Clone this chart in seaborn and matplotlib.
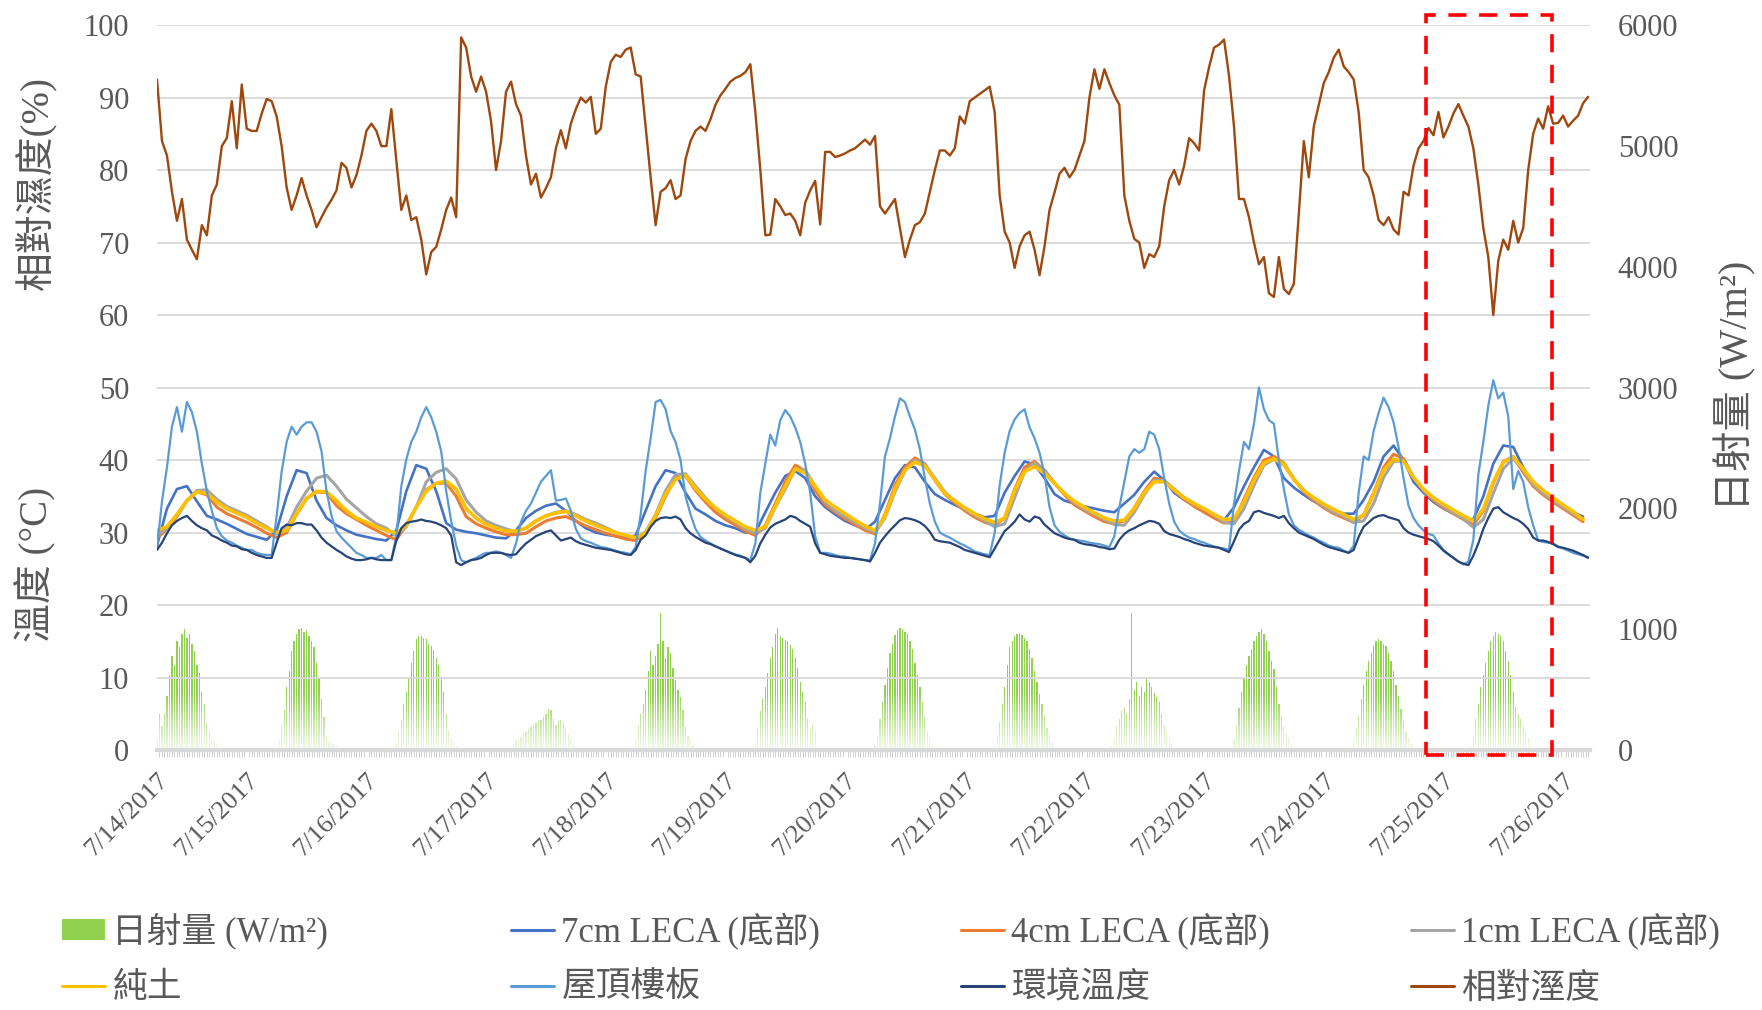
import seaborn as sns
import matplotlib.pyplot as plt
import matplotlib.dates as mdates
from matplotlib.lines import Line2D
from matplotlib.patches import Patch, Rectangle
import pandas as pd
import numpy as np

# hourly readings starting 7/14 06:00
rh = [92.5, 84, 82, 77, 73, 76, 70.4, 69, 67.7, 72.4, 71, 76.5, 78, 83.3, 84.4, 89.5, 83, 91.8, 85.7, 85.4, 85.4, 87.8, 89.8, 89.5,
      87.4, 83.3, 77.6, 74.5, 76.5, 78.9, 76.5, 74.5, 72.1, 73.5, 74.8, 75.9, 77.2, 81, 80.3, 77.6, 79.3, 82, 85.4, 86.4, 85.4, 83.3, 83.3, 88.4,
      81.3, 74.5, 76.5, 73.1, 73.5, 70.4, 65.6, 68.7, 69.4, 71.8, 74.5, 76.2, 73.5, 98.3, 96.9, 92.9, 90.8, 92.9, 90.8, 86.7, 80, 84, 90.8, 92.2,
      89.1, 87.5, 82, 78, 79.5, 76.2, 77.5, 79, 83, 85.5, 83, 86.4, 88.4, 90, 89.3, 90.1, 85, 85.7, 91.5, 94.9, 95.9, 95.6, 96.6, 96.9,
      93.2, 92.9, 86, 79, 72.4, 77, 77.5, 78.6, 76, 76.5, 81.5, 84, 85.4, 86, 85.4, 87, 89, 90.3, 91.2, 92.2, 92.7, 93, 93.5, 94.6,
      88, 80, 71, 71.1, 76, 75, 73.8, 74, 73, 71, 75.5, 77.2, 78.5, 72.5, 82.5, 82.5, 81.8, 82, 82.3, 82.7, 83, 83.6, 84.2, 83.5,
      84.7, 75, 74, 75, 76, 72, 68, 70.4, 72.4, 72.8, 74, 77, 80, 82.7, 82.7, 82, 83, 87.4, 86.4, 89.5, 90, 90.5, 91, 91.5,
      88, 76.5, 71.5, 70, 66.5, 69.5, 71, 71.5, 69, 65.5, 69.5, 74.5, 76.9, 79.5, 80.3, 79, 80, 82, 84, 90, 93.9, 91.2, 93.9, 92,
      90.3, 89, 76.5, 73, 70.5, 70, 66.5, 68.4, 68, 69.5, 75, 78.6, 80, 78, 80.6, 84.4, 83.7, 82.7, 91, 94.2, 96.9, 97.3, 98, 93,
      86, 76, 76, 73.5, 70, 67, 68, 63, 62.5, 68, 63.6, 62.9, 64.3, 74, 84, 79, 86, 89, 92, 93.5, 95.5, 96.6, 94.3, 93.5,
      92.5, 88, 80, 79, 76.5, 73.1, 72.4, 73.5, 71.8, 71.1, 77, 76.5, 80.6, 83, 84, 85.8, 84.8, 88, 84.5, 86, 87.8, 89.1, 87.5, 86,
      83, 78, 72, 68, 60, 67.5, 70.4, 69, 73, 70, 72, 80, 85, 87.1, 85.7, 88.8, 86.4, 86.5, 87.5, 86, 86.8, 87.5, 89.2, 90.1]

roof = [27.8, 34.3, 39, 44.6, 47.3, 43.9, 48, 46.6, 43.9, 39.5, 35.7, 33, 30.6, 29.5, 28.9, 28.6, 28.2, 27.9, 27.6, 27.6, 27.2, 27, 26.9, 26.9,
        32.3, 38.4, 42.5, 44.6, 43.5, 44.6, 45.2, 45.2, 43.9, 41.2, 35.7, 32.3, 30.2, 29.3, 28.6, 27.9, 27.2, 26.9, 26.5, 26.5, 26.5, 26.9, 26.2, 26.2,
        29.5, 36.4, 40.1, 42.5, 43.9, 45.9, 47.3, 45.9, 43.9, 41.2, 35.7, 31.6, 28.2, 26.2, 25.9, 26.2, 26.5, 26.9, 27.2, 27.2, 27.4, 27.2, 26.9, 26.5,
        28.5, 31.5, 33, 34, 35.5, 37, 37.8, 38.6, 34.4, 34.5, 34.7, 33, 30.5, 29.2, 28.8, 28.6, 28.3, 28, 27.9, 27.7, 27.5, 27.3, 27.2, 27,
        28, 32.5, 38.5, 43, 48, 48.3, 47, 44, 42.5, 40, 35, 32.5, 30.5, 29.4, 28.9, 28.5, 28.1, 27.8, 27.5, 27.2, 27, 26.8, 26.5, 26.2,
        28.5, 35.5, 39.5, 43.5, 42, 45.5, 46.9, 46, 44.5, 42.5, 39.5, 35.5, 29.5, 27.2, 27.2, 27.1, 26.9, 26.7, 26.7, 26.5, 26.4, 26.3, 26.2, 26.2,
        28.5, 34, 40.5, 43, 46, 48.5, 48, 46, 44.2, 41.5, 37.5, 34, 31.5, 30, 29.6, 29.3, 28.9, 28.5, 28.2, 27.8, 27.4, 27.2, 27, 26.9,
        30, 36.5, 41, 44, 45.6, 46.5, 47, 44.5, 43, 41, 38, 33.5, 31, 30.1, 29.6, 29.2, 29, 28.9, 28.8, 28.6, 28.5, 28.4, 28.2, 28,
        29.5, 33.5, 37, 40.5, 41.5, 41, 41.5, 43.9, 43.5, 41.5, 37.5, 34, 31.5, 30.3, 29.7, 29.3, 29.1, 28.8, 28.6, 28.3, 28.1, 27.9, 27.8, 27.6,
        34, 38.5, 42.5, 41.5, 45, 50, 47, 45.5, 45, 40, 36, 32.5, 31, 30.4, 30, 29.6, 29.3, 28.9, 28.6, 28.2, 28, 27.9, 27.5, 27.2,
        28.2, 35.5, 40.5, 40, 44, 46.5, 48.6, 47.3, 45.2, 41.8, 37.5, 33.7, 32, 31, 30.3, 29.8, 29.6, 28.5, 27.6, 27, 26.5, 26, 25.6, 26,
        29, 38, 42.5, 47.5, 51, 48.5, 49.3, 46, 36, 38.5, 37, 33.5, 31, 28.9, 28.7, 28.6, 28.5, 28.1, 27.8, 27.5, 27.2, 27, 26.8, 26.6]

ambient = [27.6, 28.6, 29.9, 31, 31.6, 32, 32.3, 31.6, 31, 30.6, 30.3, 29.6, 29.3, 28.9, 28.6, 28.2, 28.1, 27.7, 27.6, 27.2, 26.9, 26.7, 26.5, 26.5,
           28.6, 30.6, 31.1, 31, 31.3, 31.3, 31.1, 31.1, 30.3, 29.3, 28.6, 28.1, 27.6, 27.2, 26.7, 26.4, 26.2, 26.2, 26.3, 26.5, 26.3, 26.2, 26.2, 26.2,
           28.9, 30.6, 31.3, 31.5, 31.6, 31.8, 31.6, 31.5, 31.3, 31, 30.6, 29.6, 25.9, 25.5, 25.9, 26.2, 26.3, 26.5, 26.9, 27.2, 27.2, 27.2, 27, 26.9,
           27, 27.8, 28.5, 29, 29.5, 29.8, 30.1, 30.3, 29.6, 28.9, 29.1, 29.3, 28.8, 28.5, 28.3, 28.1, 27.9, 27.8, 27.7, 27.6, 27.4, 27.2, 27, 26.9,
           27.6, 29, 29.6, 30.8, 31.6, 32, 32.1, 32, 32.2, 31.8, 30.6, 29.9, 29.4, 29, 28.6, 28.4, 28.1, 27.8, 27.5, 27.2, 26.9, 26.7, 26.5, 25.9,
           26.8, 28.5, 29.7, 30.7, 31.2, 31.5, 31.8, 32.3, 32.1, 31.6, 31.2, 30.8, 28.5, 27.2, 27, 26.8, 26.7, 26.6, 26.5, 26.5, 26.4, 26.3, 26.2, 26,
           27.2, 28.6, 29.5, 30.3, 31, 31.7, 32, 31.9, 31.7, 31.4, 30.9, 30.1, 29, 28.8, 28.7, 28.6, 28.3, 28, 27.6, 27.4, 27.2, 27, 26.8, 26.6,
           27.8, 29, 30.2, 30.8, 31.5, 32.5, 31.8, 31.5, 32.2, 32, 31.1, 30.5, 29.9, 29.6, 29.3, 29.1, 29, 28.6, 28.4, 28.3, 28.2, 28, 27.9, 27.7,
           27.8, 29, 29.8, 30.3, 30.6, 31, 31.3, 31.6, 31.5, 31.2, 30.2, 29.8, 29.6, 29.4, 29.1, 28.9, 28.6, 28.4, 28.2, 28.1, 28, 27.9, 27.6, 27.3,
           28.8, 30.4, 31.2, 31.6, 32.8, 33, 32.7, 32.5, 32.3, 32, 32.3, 31.3, 30.6, 30, 29.7, 29.4, 29.1, 28.7, 28.3, 28, 27.8, 27.6, 27.4, 27.2,
           27.6, 29.4, 30.8, 31.4, 32, 32.3, 32.4, 32.1, 31.9, 31.7, 30.6, 30, 29.7, 29.5, 29.3, 29.1, 28.8, 28.2, 27.5, 27, 26.5, 26, 25.7, 25.5,
           26.8, 28.5, 30.5, 32, 33.3, 33.5, 32.8, 32.4, 32, 31.7, 31.2, 30.5, 29.3, 28.9, 28.9, 28.7, 28.4, 28, 27.9, 27.7, 27.5, 27.2, 26.9, 26.5]

# 2-hourly readings starting 7/14 06:00
leca7 = [28.2, 33.3, 36, 36.4, 34.3, 32.3, 31.8, 31.2, 30.5, 29.8, 29.4, 29.0,
         30.3, 35, 38.6, 38.2, 34.4, 32, 31, 30.3, 29.7, 29.4, 29.1, 28.9,
         30.3, 35.7, 39.3, 38.8, 35.7, 31.3, 30.4, 30.1, 29.9, 29.6, 29.3, 29.2,
         30.3, 32, 33, 33.7, 34, 33, 31.6, 30.6, 30, 29.7, 29.5, 29.3,
         29.6, 33, 36.4, 38.6, 38.2, 35.5, 33.3, 32.5, 31.6, 31, 30.6, 30,
         30, 32.8, 35.5, 37.8, 38.5, 37.5, 35, 33.5, 32.5, 31.6, 31, 30.4,
         31.5, 34.5, 37.5, 39.3, 39, 37, 35.3, 34.5, 33.8, 33.2, 32.6, 32.1,
         32.3, 35.5, 37.8, 39.8, 39.4, 37.5, 35.3, 34.4, 34, 33.6, 33.3, 33,
         32.8, 34, 35.2, 37, 38.4, 37.2, 35.5, 34.5, 33.7, 33, 32.3, 31.7,
         33.5, 36.4, 39, 41.4, 40.5, 37.5, 36.2, 35.2, 34.3, 33.7, 33.1, 32.6,
         32.6, 34.5, 37, 40.5, 42, 40, 37, 35.5, 34.2, 33.3, 32.6, 32,
         31.8, 35, 39.5, 42, 41.8, 39, 36.5, 35.3, 34.4, 33.6, 32.8, 32.2]

leca4 = [29.2, 30.5, 32.2, 34.4, 35.6, 35.2, 33.5, 32.6, 32, 31.4, 30.7, 29.9,
         29.3, 30, 32.5, 34.7, 35.6, 35.5, 33.7, 32.6, 31.8, 31, 30.3, 29.6,
         29, 31, 33.5, 35.9, 36.8, 36.8, 35, 32.2, 31.2, 30.6, 30.1, 29.7,
         29.7, 29.9, 30.8, 31.6, 32, 32.2, 31.6, 30.9, 30.4, 29.9, 29.5, 29.1,
         28.9, 29.9, 32, 35, 37.6, 37.8, 35.8, 34.2, 32.8, 31.8, 31, 30.2,
         29.6, 31, 34, 37, 39.3, 38.5, 35.8, 33.8, 32.8, 31.9, 31.1, 30.3,
         29.8, 32.5, 36.5, 39, 40.3, 39.5, 37.2, 35.3, 34.1, 33, 32.1, 31.4,
         31, 32, 36, 39, 39.8, 38.6, 36.8, 35.2, 33.8, 33, 32.2, 31.5,
         31.2, 31.6, 33.4, 35.7, 37.5, 37.2, 35.8, 34.6, 33.6, 32.8, 32, 31.3,
         31.5, 34.6, 37.6, 40, 40.5, 39.6, 37.4, 35.6, 34.4, 33.4, 32.6, 32,
         31.4, 32.4, 35.5, 39, 40.8, 40.2, 37.6, 35.8, 34.4, 33.4, 32.6, 31.8,
         31.1, 33, 36.8, 39.8, 40.5, 38.3, 36.4, 35.2, 34.2, 33.3, 32.4, 31.5]

leca1 = [29.6, 30.6, 32.4, 34.4, 35.8, 35.9, 34.6, 33.6, 33, 32.4, 31.6, 30.8,
         29.8, 30.6, 33.5, 35.7, 37.5, 37.9, 36.4, 34.6, 33.4, 32.2, 31.2, 30.6,
         29.5, 30.8, 33.5, 37, 38.3, 38.8, 37.4, 34.5, 32.8, 31.6, 31, 30.5,
         30.1, 30.6, 31.6, 32.3, 32.8, 33, 32.5, 31.8, 31.3, 30.7, 30, 29.6,
         29.3, 30.1, 32.5, 35.8, 38, 38.1, 36.4, 34.8, 33.3, 32.2, 31.4, 30.5,
         29.9, 30.6, 33.5, 36, 38.8, 38.6, 36.4, 34.2, 33, 32.2, 31.4, 30.6,
         30, 32, 35.6, 38.5, 40, 39.4, 37.5, 35.6, 34.3, 33.2, 32.4, 31.6,
         30.8, 31.2, 34.8, 38.4, 39.6, 38.6, 36.8, 35.4, 34.1, 33.2, 32.5, 31.8,
         31.1, 31, 32.8, 35.2, 37.2, 37.2, 36, 34.8, 33.9, 33.2, 32.4, 31.4,
         31.2, 33.3, 36.5, 39.3, 40.1, 39.3, 37.4, 35.8, 34.6, 33.6, 32.8, 32.2,
         31.4, 31.6, 34, 37.6, 39.8, 39.9, 37.6, 35.8, 34.6, 33.6, 32.7, 31.9,
         30.7, 31.8, 35.4, 38.8, 40.2, 38.6, 36.6, 35.4, 34.4, 33.5, 32.6, 31.8]

soil = [30.3, 30.8, 32.5, 34.4, 35.6, 35.4, 34.2, 33.3, 32.7, 32.1, 31.3, 30.6,
        30, 30.3, 32.6, 34.7, 35.7, 35.6, 34.4, 33, 32, 31.4, 30.8, 30.3,
        29.9, 31, 33.5, 35.7, 36.8, 37.1, 36, 33.3, 32, 31.1, 30.6, 30.2,
        30.2, 30.6, 31.6, 32.3, 32.7, 32.9, 32.3, 31.6, 31, 30.5, 30, 29.6,
        29.3, 29.9, 32.3, 35.3, 37.3, 37.9, 36.1, 34.6, 33.4, 32.4, 31.6, 30.8,
        30.3, 30.8, 33.6, 36.4, 38.8, 38.2, 36.4, 34.5, 33.5, 32.6, 31.7, 30.9,
        30.3, 32.2, 36, 38.6, 39.7, 39.2, 37.3, 35.4, 34.4, 33.4, 32.6, 31.9,
        31.4, 32, 35.8, 38.4, 39.1, 38.2, 36.8, 35.4, 34.3, 33.5, 32.7, 32,
        31.6, 31.7, 33.3, 35.5, 37, 37, 35.9, 34.8, 34, 33.3, 32.5, 31.8,
        31.9, 34.2, 37.2, 39.6, 40.2, 39.4, 37.3, 35.8, 34.8, 33.9, 33.2, 32.5,
        31.8, 32.4, 35.3, 38.6, 40.1, 39.8, 37.6, 36, 34.8, 33.9, 33.1, 32.3,
        31.6, 33.2, 37, 39.7, 40.4, 38.8, 37, 35.8, 34.8, 33.8, 32.9, 31.8]

# solar radiation every 30 min, 05:30 to 18:30 each day
sun_0714 = [0, 100, 300, 200, 300, 450, 620, 780, 700, 900, 850, 960, 1000, 930, 960, 880, 820, 700, 640, 480, 380, 220, 160, 110, 90, 50, 10]
sun_0715 = [0, 20, 80, 200, 330, 520, 650, 820, 900, 960, 1000, 1010, 980, 990, 940, 900, 850, 720, 600, 420, 270, 120, 70, 60, 50, 40, 0]
sun_0716 = [0, 60, 150, 250, 380, 480, 600, 720, 820, 920, 940, 940, 930, 920, 880, 860, 830, 760, 700, 600, 480, 300, 160, 100, 70, 30, 0]
sun_0717 = [50, 80, 100, 110, 130, 150, 170, 190, 210, 220, 240, 250, 270, 300, 340, 330, 260, 210, 240, 250, 220, 170, 130, 100, 60, 30, 0]
sun_0718 = [20, 80, 200, 300, 380, 500, 650, 820, 700, 780, 880, 1130, 900, 760, 850, 800, 680, 580, 500, 440, 330, 190, 120, 80, 40, 10, 0]
sun_0719 = [10, 60, 180, 320, 420, 520, 640, 760, 850, 960, 1010, 940, 930, 910, 900, 870, 840, 760, 680, 560, 480, 400, 260, 170, 210, 150, 20]
sun_0720 = [0, 40, 120, 260, 400, 540, 680, 800, 880, 950, 990, 1010, 1000, 980, 960, 900, 840, 720, 620, 520, 400, 270, 150, 90, 50, 20, 0]
sun_0721 = [0, 40, 120, 230, 380, 520, 700, 850, 900, 940, 960, 970, 950, 930, 900, 840, 760, 650, 560, 460, 380, 280, 180, 130, 60, 20, 0]
sun_0722 = [30, 100, 200, 260, 320, 350, 300, 420, 1130, 500, 560, 450, 520, 480, 600, 560, 520, 470, 440, 400, 300, 200, 130, 90, 50, 10, 0]
sun_0723 = [20, 80, 200, 350, 480, 600, 700, 780, 840, 900, 940, 980, 1000, 960, 900, 820, 740, 670, 520, 380, 280, 190, 140, 100, 50, 10, 0]
sun_0724 = [20, 80, 180, 280, 420, 540, 650, 740, 800, 860, 900, 920, 900, 880, 860, 800, 740, 650, 540, 450, 340, 240, 150, 100, 50, 10, 0]
sun_0725 = [30, 120, 260, 380, 520, 620, 720, 820, 900, 940, 980, 960, 940, 900, 820, 740, 620, 480, 360, 300, 260, 200, 150, 100, 50, 10, 0]
sun_days = ['2017-07-14', '2017-07-15', '2017-07-16', '2017-07-17', '2017-07-18', '2017-07-19',
            '2017-07-20', '2017-07-21', '2017-07-22', '2017-07-23', '2017-07-24', '2017-07-25']

tick_dates = ['2017-07-14 06:00', '2017-07-15 00:00', '2017-07-16 00:00', '2017-07-17 00:00', '2017-07-18 00:00',
              '2017-07-19 00:00', '2017-07-20 00:00', '2017-07-21 00:00', '2017-07-22 00:00', '2017-07-23 00:00',
              '2017-07-24 00:00', '2017-07-25 00:00', '2017-07-26 00:00']
tick_labels = ['7/14/2017', '7/15/2017', '7/16/2017', '7/17/2017', '7/18/2017', '7/19/2017', '7/20/2017',
               '7/21/2017', '7/22/2017', '7/23/2017', '7/24/2017', '7/25/2017', '7/26/2017']

sns.set_theme(style='white')
plt.rcParams['font.family'] = ['Liberation Serif', 'Noto Sans CJK TC', 'DejaVu Sans']
GREY = '#595959'

t0 = pd.Timestamp('2017-07-14 06:00')
t_hour = pd.date_range(t0, periods=len(rh), freq='h')
t_2h = pd.date_range(t0, periods=len(leca7), freq='2h')

sun_t, sun_v = [], []
for day, vals in zip(sun_days, [sun_0714, sun_0715, sun_0716, sun_0717, sun_0718, sun_0719,
                                sun_0720, sun_0721, sun_0722, sun_0723, sun_0724, sun_0725]):
    sun_t.extend(pd.date_range(day + ' 05:30', periods=len(vals), freq='30min'))
    sun_v.extend(vals)

fig = plt.figure(figsize=(17.62, 10.10), dpi=100)
ax1 = fig.add_axes([0.0891, 0.2574, 0.8133, 0.7178])
ax2 = ax1.twinx()

# solar bars on the right axis, faded toward the bottom
ax2.bar(sun_t, sun_v, width=pd.Timedelta(minutes=15), color='#92D050', linewidth=0, zorder=1)
x_lo, x_hi = t0, t0 + pd.Timedelta(hours=287.4)
grad = np.ones((100, 1, 4))
grad[:, 0, 3] = np.linspace(0.9, 0.0, 100)
ax2.imshow(grad, extent=[mdates.date2num(x_lo), mdates.date2num(x_hi), 0, 480],
           aspect='auto', origin='lower', zorder=2, interpolation='bilinear')

lines = [(t_2h, leca7, '#4472C4', 1.9),
         (t_2h, leca4, '#ED7D31', 2.2),
         (t_2h, leca1, '#A5A5A5', 2.2),
         (t_2h, soil, '#FFC000', 2.6),
         (t_hour, roof, '#5B9BD5', 1.6),
         (t_hour, ambient, '#264478', 1.6),
         (t_hour, rh, '#9E480E', 1.7)]
for tt, vals, c, lw in lines:
    sns.lineplot(x=tt, y=vals, ax=ax1, color=c, linewidth=lw, legend=False)

ax1.set_zorder(ax2.get_zorder() + 1)
ax1.patch.set_visible(False)

ax1.set_xlim(x_lo, x_hi)
ax1.set_ylim(0, 100)
ax2.set_ylim(0, 6000)
ax1.set_yticks(range(0, 101, 10))
ax2.set_yticks(range(0, 6001, 1000))
ax1.yaxis.grid(True, color='#d9d9d9', linewidth=1.3)
ax1.xaxis.grid(False)
ax1.set_xlabel('')
ax1.set_ylabel('')
ax2.set_ylabel('')

for ax in (ax1, ax2):
    for s in ax.spines.values():
        s.set_visible(False)
ax1.spines['bottom'].set_visible(True)
ax1.spines['bottom'].set_color('#d9d9d9')
ax1.spines['bottom'].set_linewidth(3)

ax1.set_xticks(pd.to_datetime(tick_dates, format='%Y-%m-%d %H:%M'))
ax1.set_xticklabels(tick_labels, rotation=45, ha='right', rotation_mode='anchor')
ax1.xaxis.set_minor_locator(mdates.MinuteLocator(byminute=[0, 30]))
ax1.tick_params(axis='x', which='major', length=0, pad=14, labelsize=19, labelcolor=GREY)
ax1.tick_params(axis='x', which='minor', length=5, width=0.7, color='#d0d0d0', bottom=True)
ax1.tick_params(axis='y', length=0, pad=20, labelsize=22, labelcolor=GREY)
ax2.tick_params(axis='y', length=0, pad=20, labelsize=22, labelcolor=GREY)

# dashed highlight box
x0 = mdates.date2num(pd.Timestamp('2017-07-24 20:36'))
x1 = mdates.date2num(pd.Timestamp('2017-07-25 21:48'))
ax1.add_patch(Rectangle((x0, -0.7), x1 - x0, 102.1, fill=False, edgecolor='#FF0000',
                        linewidth=2.6, linestyle=(0, (5, 3.5)), clip_on=False, zorder=10))

fig.text(0.0205, 0.819, '相對濕度(%)', rotation=90, ha='center', va='center', fontsize=28, color=GREY)
fig.text(0.0205, 0.441, '溫度 (°C)', rotation=90, ha='center', va='center', fontsize=28, color=GREY)
fig.text(0.985, 0.618, '日射量 (W/m²)', rotation=90, ha='center', va='center', fontsize=29, color=GREY)

entries = [(Patch(facecolor='#92D050', edgecolor='none'), '日射量 (W/m²)', 0.0352, 0.078),
           (Line2D([], [], color='#4472C4', lw=2.2), '7cm LECA (底部)', 0.290, 0.078),
           (Line2D([], [], color='#ED7D31', lw=2.2), '4cm LECA (底部)', 0.5454, 0.078),
           (Line2D([], [], color='#A5A5A5', lw=2.2), '1cm LECA (底部)', 0.8008, 0.078),
           (Line2D([], [], color='#FFC000', lw=2.2), '純土', 0.0352, 0.021),
           (Line2D([], [], color='#5B9BD5', lw=2.2), '屋頂樓板', 0.290, 0.021),
           (Line2D([], [], color='#264478', lw=2.2), '環境溫度', 0.5454, 0.021),
           (Line2D([], [], color='#9E480E', lw=2.2), '相對溼度', 0.8008, 0.021)]
for h, lab, lx, ly in entries:
    fig.legend(handles=[h], labels=[lab], loc='center left', bbox_to_anchor=(lx, ly),
               frameon=False, fontsize=25, handlelength=1.25, handleheight=0.55,
               handletextpad=0.2, borderpad=0, borderaxespad=0, labelcolor=GREY)

fig.savefig('out.png', dpi=100)
